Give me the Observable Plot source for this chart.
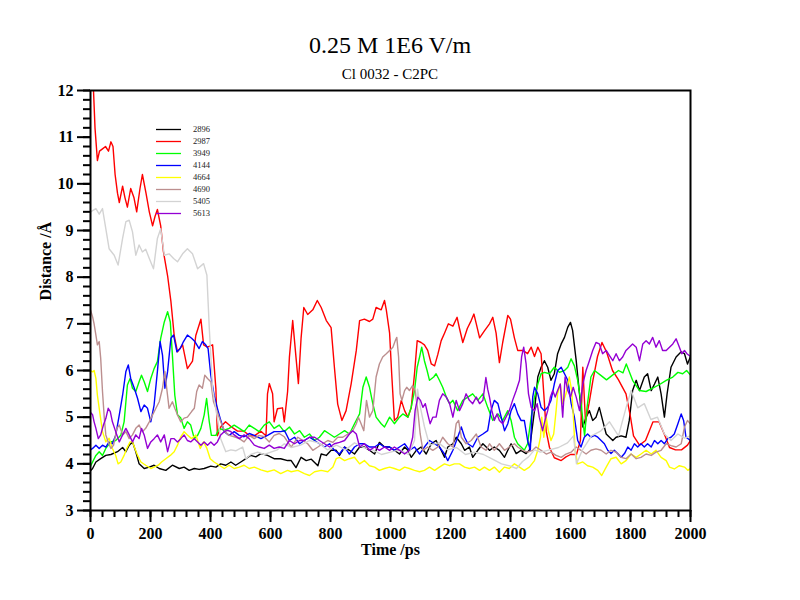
<!DOCTYPE html>
<html><head><meta charset="utf-8">
<script src="https://cdn.jsdelivr.net/npm/d3@7"></script>
<script src="https://cdn.jsdelivr.net/npm/@observablehq/plot@0.6"></script>
<style>
body{margin:0;background:#fff;}
#wrap{position:relative;width:800px;height:600px;overflow:hidden;}
#wrap svg.plotsvg{position:absolute;left:0;top:0;}
.title{position:absolute;left:0;width:780px;text-align:center;font-family:"Liberation Serif",serif;color:#000;line-height:1;white-space:nowrap;}
#legend{position:absolute;left:150px;top:120px;}
</style></head><body>
<div id="wrap">
  <div class="title" style="top:33px;font-size:24px;">0.25 M 1E6 V/m</div>
  <div class="title" style="top:67px;font-size:15px;">Cl 0032 - C2PC</div>
</div>
<script>
const seriesNames = ["2896","2987","3949","4144","4664","4690","5405","5613"];
const seriesColors = ["#000000","#ff0000","#00ff00","#0000ff","#ffff00","#bc8f8f","#d3d3d3","#9400d3"];
const xTicksMajor = [0,200,400,600,800,1000,1200,1400,1600,1800,2000];
const yTicksMajor = [3,4,5,6,7,8,9,10,11,12];

const s2896 = [[0,3.85],[7,3.9],[18,4.04],[34,4.11],[51,4.18],[68,4.2],[90,4.26],[107,4.35],[118,4.26],[129,4.4],[140,4.47],[151,4.26],[162,4.0],[179,3.9],[196,3.93],[212,3.97],[229,3.9],[251,3.86],[273,3.97],[296,3.9],[312,3.93],[329,3.86],[346,3.9],[362,3.88],[379,3.9],[401,3.95],[418,3.93],[434,4.0],[451,3.97],[468,4.04],[484,3.97],[501,4.04],[518,4.11],[534,4.18],[551,4.15],[568,4.22],[590,4.18],[612,4.11],[634,4.11],[657,4.07],[669,4.07],[685,3.92],[702,4.14],[719,4.07],[736,4.1],[758,3.96],[769,4.21],[786,4.18],[802,4.29],[819,4.29],[830,4.18],[847,4.36],[863,4.29],[880,4.21],[897,4.36],[913,4.36],[930,4.29],[947,4.21],[963,4.46],[980,4.36],[997,4.36],[1013,4.29],[1030,4.21],[1047,4.36],[1058,4.29],[1069,4.14],[1086,4.29],[1102,4.36],[1119,4.21],[1136,4.43],[1152,4.5],[1169,4.29],[1180,4.14],[1191,4.36],[1208,4.43],[1219,4.57],[1236,4.43],[1247,4.29],[1263,4.36],[1274,4.14],[1291,4.29],[1308,4.43],[1330,4.29],[1346,4.36],[1363,4.29],[1380,4.14],[1391,4.29],[1402,4.43],[1419,4.22],[1435,4.29],[1452,4.22],[1463,4.29],[1480,5.14],[1491,5.86],[1502,6.07],[1513,6.21],[1524,6.07],[1535,5.79],[1546,5.93],[1557,6.36],[1569,6.57],[1580,6.71],[1591,6.93],[1600,7.03],[1607,6.86],[1619,6.21],[1630,5.5],[1641,4.79],[1652,5.0],[1663,5.14],[1674,4.93],[1685,5.0],[1696,5.21],[1707,4.93],[1719,4.64],[1730,4.57],[1741,4.5],[1752,4.57],[1769,4.6],[1785,4.57],[1796,4.93],[1807,5.57],[1819,5.79],[1830,5.57],[1846,5.86],[1857,5.93],[1869,5.57],[1880,5.71],[1891,5.86],[1902,5.5],[1913,5.0],[1922,5.5],[1935,6.07],[1952,6.29],[1969,6.4],[1980,6.36],[1990,6.14],[2000,6.3]];

const s2987 = [[0,12.3],[10,12.0],[15,11.2],[23,10.5],[30,10.7],[40,10.75],[50,10.8],[60,10.7],[68,10.9],[75,10.8],[82,10.2],[90,9.8],[96,9.6],[107,9.95],[115,9.7],[123,9.5],[134,9.9],[145,9.7],[154,9.4],[165,9.9],[173,10.2],[185,9.8],[196,9.4],[207,9.1],[215,9.3],[223,9.45],[234,9.1],[243,8.55],[257,8.03],[268,7.48],[279,6.75],[290,6.4],[307,6.55],[323,6.04],[340,6.2],[351,6.75],[368,7.1],[377,6.55],[390,6.5],[407,6.55],[418,5.6],[423,4.6],[435,4.8],[450,4.9],[468,4.8],[490,4.7],[512,4.7],[530,4.6],[546,4.6],[568,4.7],[585,4.6],[590,5.5],[596,5.72],[607,5.5],[612,4.9],[623,5.18],[640,5.2],[646,4.9],[657,5.55],[663,6.28],[674,7.07],[685,6.28],[693,5.72],[702,6.7],[711,7.35],[724,7.2],[741,7.3],[756,7.5],[769,7.35],[786,7.07],[802,6.92],[813,6.07],[824,5.28],[838,4.93],[852,5.14],[869,5.72],[886,6.43],[897,7.07],[913,7.1],[930,7.05],[941,7.1],[952,7.35],[969,7.3],[980,7.5],[986,7.3],[997,6.8],[1004,5.93],[1013,4.93],[1024,5.0],[1036,5.36],[1047,5.14],[1058,5.0],[1069,5.2],[1080,5.93],[1089,6.64],[1102,6.6],[1113,6.55],[1124,6.43],[1136,6.14],[1147,6.1],[1158,6.35],[1169,6.64],[1180,6.8],[1193,7.0],[1208,6.95],[1222,7.14],[1230,6.9],[1241,6.6],[1256,6.9],[1269,7.07],[1278,7.21],[1286,7.0],[1297,6.7],[1313,6.85],[1330,7.0],[1341,7.14],[1352,6.8],[1363,6.17],[1374,6.6],[1391,7.18],[1400,7.1],[1413,6.7],[1424,6.43],[1441,6.43],[1457,6.36],[1469,6.5],[1480,6.3],[1491,6.5],[1502,6.36],[1511,5.5],[1519,4.7],[1530,4.35],[1546,4.13],[1569,4.07],[1585,4.15],[1600,4.2],[1620,4.2],[1633,4.5],[1641,6.07],[1650,4.9],[1662,5.3],[1675,5.8],[1690,6.3],[1705,6.6],[1720,6.4],[1740,6.0],[1760,5.8],[1785,5.5],[1800,5.0],[1810,4.6],[1830,4.4],[1850,4.5],[1875,4.9],[1895,4.9],[1915,4.6],[1930,4.35],[1950,4.3],[1970,4.3],[1990,4.4],[2000,4.5]];

const s3949 = [[0,3.95],[7,4.04],[18,4.18],[29,4.26],[40,4.18],[51,4.33],[68,4.47],[84,4.5],[101,4.61],[112,4.9],[118,5.33],[123,5.69],[132,5.83],[140,5.62],[151,5.55],[162,5.76],[170,5.9],[179,5.76],[190,5.55],[201,5.83],[212,6.04],[223,6.19],[234,6.69],[246,7.04],[257,7.26],[266,7.04],[273,6.33],[281,5.47],[290,5.05],[301,4.98],[312,4.76],[323,4.9],[334,4.83],[346,4.54],[357,4.61],[368,4.76],[379,5.05],[387,5.4],[396,4.9],[403,4.61],[418,4.61],[429,4.76],[446,4.72],[462,4.76],[479,4.83],[496,4.76],[512,4.69],[529,4.83],[546,4.76],[562,4.69],[579,4.83],[596,4.9],[612,4.76],[629,4.83],[646,4.69],[663,4.79],[680,4.64],[697,4.71],[713,4.57],[730,4.64],[747,4.5],[763,4.57],[780,4.71],[797,4.64],[813,4.57],[830,4.64],[847,4.71],[863,4.64],[880,4.86],[897,5.07],[908,5.64],[919,5.86],[930,5.64],[941,5.29],[952,5.0],[969,4.86],[980,4.79],[997,5.0],[1013,4.86],[1030,5.0],[1041,5.07],[1058,5.0],[1069,5.21],[1080,5.57],[1089,6.07],[1097,6.29],[1104,6.5],[1113,6.21],[1122,6.0],[1130,5.79],[1144,5.86],[1152,5.93],[1163,5.79],[1174,5.64],[1186,5.43],[1197,5.29],[1208,5.36],[1224,5.14],[1241,5.36],[1258,5.43],[1274,5.5],[1291,5.36],[1308,5.5],[1324,5.21],[1341,4.93],[1358,5.07],[1374,4.93],[1391,5.14],[1402,4.93],[1413,4.57],[1424,4.43],[1435,4.36],[1446,4.29],[1457,4.43],[1469,5.0],[1480,5.43],[1491,5.71],[1502,5.93],[1513,5.96],[1530,5.93],[1546,6.07],[1563,5.96],[1580,6.0],[1591,6.07],[1602,6.25],[1613,6.1],[1624,5.79],[1635,5.3],[1647,4.6],[1655,5.2],[1668,5.86],[1680,6.0],[1700,5.9],[1720,5.8],[1740,5.9],[1760,6.0],[1775,5.95],[1786,6.14],[1807,5.79],[1830,5.57],[1852,5.55],[1874,5.62],[1897,5.7],[1919,5.79],[1941,5.86],[1958,5.96],[1974,5.93],[1987,6.0],[2000,5.9]];

const s4144 = [[0,4.3],[7,4.33],[18,4.4],[29,4.33],[40,4.4],[51,4.36],[62,4.47],[73,4.43],[84,4.61],[96,5.05],[107,5.47],[118,5.98],[126,6.12],[134,5.83],[146,5.62],[157,5.4],[168,5.12],[179,5.26],[190,5.19],[201,4.9],[212,5.26],[223,5.98],[232,6.62],[240,6.33],[248,5.62],[257,5.98],[268,6.69],[277,6.76],[288,6.4],[299,6.47],[310,6.62],[323,6.76],[337,6.69],[348,6.62],[362,6.47],[373,6.62],[384,6.55],[392,6.47],[401,5.9],[412,5.47],[423,5.19],[432,4.98],[446,4.69],[462,4.61],[479,4.69],[496,4.61],[512,4.58],[529,4.65],[546,4.61],[568,4.54],[590,4.61],[612,4.69],[634,4.69],[647,4.71],[663,4.5],[680,4.57],[697,4.43],[713,4.5],[730,4.57],[747,4.5],[763,4.43],[780,4.36],[797,4.43],[813,4.29],[830,4.21],[847,4.36],[863,4.21],[880,4.36],[897,4.43],[913,4.43],[930,4.36],[947,4.36],[963,4.43],[980,4.36],[997,4.36],[1013,4.29],[1030,4.36],[1047,4.43],[1063,4.29],[1080,4.36],[1097,4.21],[1113,4.36],[1130,4.5],[1147,4.43],[1163,4.36],[1180,4.21],[1191,4.07],[1208,4.29],[1224,4.57],[1236,4.79],[1247,4.57],[1258,4.43],[1274,4.36],[1291,4.57],[1308,4.64],[1324,4.71],[1335,5.14],[1346,5.36],[1358,5.29],[1369,5.0],[1380,4.71],[1391,4.86],[1402,5.14],[1413,5.29],[1424,5.07],[1435,4.93],[1446,4.93],[1457,4.5],[1466,4.29],[1474,5.43],[1480,5.64],[1491,5.5],[1502,5.21],[1513,5.14],[1524,5.21],[1535,5.36],[1546,5.71],[1557,6.0],[1569,6.07],[1580,5.93],[1591,5.79],[1602,5.3],[1613,5.0],[1624,4.5],[1635,4.36],[1646,4.57],[1657,4.64],[1668,4.57],[1680,4.61],[1691,4.57],[1702,4.5],[1713,4.43],[1724,4.29],[1735,4.22],[1746,4.29],[1757,4.22],[1769,4.14],[1780,4.22],[1791,4.36],[1802,4.29],[1813,4.43],[1824,4.36],[1835,4.43],[1846,4.36],[1857,4.43],[1869,4.36],[1880,4.5],[1891,4.43],[1902,4.5],[1913,4.43],[1924,4.54],[1935,4.57],[1946,4.64],[1958,4.86],[1969,5.07],[1977,4.93],[1985,4.57],[2000,4.5]];

const s4664 = [[0,6.0],[7,5.97],[12,6.0],[18,5.83],[23,5.47],[32,5.05],[40,4.69],[51,4.47],[62,4.55],[73,4.33],[84,4.18],[92,4.0],[101,4.04],[112,4.18],[121,4.33],[132,4.47],[140,4.47],[148,4.33],[157,4.18],[168,4.04],[184,3.97],[201,3.9],[212,3.93],[226,3.97],[237,4.04],[251,4.11],[266,4.18],[279,4.26],[290,4.4],[301,4.58],[312,4.69],[323,4.62],[337,4.54],[351,4.62],[366,4.33],[377,4.47],[388,4.33],[399,4.11],[412,4.04],[429,3.97],[446,3.9],[462,3.97],[479,3.9],[496,3.93],[512,3.97],[529,3.9],[546,3.93],[568,3.87],[590,3.83],[612,3.87],[634,3.79],[657,3.86],[669,3.83],[691,3.86],[713,3.79],[730,3.75],[747,3.83],[769,3.86],[791,3.83],[808,3.93],[819,4.11],[830,4.14],[847,4.07],[863,4.11],[880,4.14],[897,4.0],[913,4.07],[930,3.96],[947,3.93],[963,3.86],[980,3.9],[997,3.93],[1013,3.9],[1030,3.86],[1047,3.93],[1063,3.9],[1080,3.86],[1097,3.83],[1113,3.86],[1130,3.93],[1147,3.86],[1163,3.93],[1180,4.0],[1197,3.96],[1213,4.0],[1230,4.0],[1247,3.93],[1263,3.9],[1280,3.93],[1297,3.86],[1313,3.93],[1330,3.86],[1346,3.93],[1363,3.82],[1380,3.93],[1396,3.9],[1413,4.0],[1430,3.93],[1446,3.86],[1463,3.93],[1480,4.07],[1491,4.29],[1500,4.57],[1504,5.0],[1511,4.57],[1519,5.0],[1526,4.71],[1535,4.5],[1544,4.64],[1552,5.14],[1557,5.5],[1566,5.71],[1574,5.29],[1585,5.5],[1596,5.86],[1604,5.57],[1611,4.86],[1615,4.29],[1624,4.0],[1641,4.04],[1657,3.96],[1674,3.93],[1691,3.86],[1704,3.75],[1719,3.93],[1735,4.11],[1752,4.14],[1769,4.0],[1785,4.07],[1802,4.21],[1819,4.14],[1835,4.21],[1852,4.29],[1869,4.21],[1885,4.29],[1902,4.14],[1919,4.07],[1930,3.93],[1946,3.89],[1963,3.96],[1980,3.93],[1991,3.86],[2000,3.9]];

const s4690 = [[0,7.3],[7,7.15],[12,7.0],[18,6.76],[23,6.55],[29,6.62],[34,6.26],[40,5.55],[46,4.98],[51,4.62],[59,4.47],[68,4.33],[77,4.4],[88,4.76],[96,4.83],[107,4.62],[118,4.69],[129,4.54],[140,4.62],[151,4.76],[162,4.83],[173,4.69],[184,4.76],[196,4.9],[207,5.05],[218,5.19],[229,5.33],[240,5.62],[248,5.98],[254,5.62],[262,5.19],[273,5.33],[281,5.19],[290,5.05],[301,4.9],[312,4.98],[323,5.0],[337,5.12],[346,5.19],[354,5.55],[362,5.69],[373,5.62],[381,5.9],[390,5.83],[401,5.76],[410,5.33],[418,5.19],[426,5.05],[434,4.9],[448,4.69],[462,4.61],[479,4.58],[496,4.54],[512,4.47],[529,4.61],[546,4.54],[562,4.61],[579,4.58],[596,4.47],[612,4.61],[629,4.65],[646,4.58],[669,4.36],[691,4.57],[708,4.5],[724,4.43],[741,4.29],[758,4.36],[774,4.43],[791,4.5],[808,4.46],[824,4.57],[841,4.57],[858,4.64],[874,4.71],[886,4.86],[893,5.0],[902,4.86],[911,4.71],[920,5.36],[930,5.0],[941,5.14],[952,5.86],[963,6.14],[974,6.29],[986,6.36],[997,6.43],[1008,6.5],[1016,6.64],[1021,6.71],[1027,6.29],[1032,5.5],[1038,5.36],[1047,5.57],[1054,5.64],[1063,5.57],[1074,5.68],[1082,5.57],[1091,5.14],[1099,4.64],[1108,4.29],[1124,4.36],[1141,4.29],[1158,4.36],[1174,4.57],[1191,4.43],[1208,4.36],[1219,4.86],[1227,4.93],[1236,4.57],[1252,4.43],[1269,4.5],[1286,4.64],[1302,4.36],[1319,4.29],[1330,4.43],[1346,4.29],[1363,4.43],[1380,4.29],[1396,4.36],[1413,4.43],[1424,4.36],[1441,4.29],[1457,4.25],[1474,4.29],[1485,4.36],[1502,4.29],[1519,4.21],[1535,4.25],[1552,4.18],[1569,4.14],[1585,4.21],[1602,4.25],[1619,4.36],[1635,4.29],[1652,4.21],[1668,4.29],[1685,4.32],[1702,4.29],[1719,4.21],[1735,4.29],[1752,4.25],[1769,4.14],[1785,4.11],[1802,4.21],[1819,4.11],[1835,4.14],[1852,4.21],[1869,4.18],[1885,4.25],[1902,4.29],[1919,4.43],[1935,4.39],[1952,4.36],[1969,4.43],[1980,4.79],[1990,4.93],[2000,4.85]];

const s5405 = [[0,9.4],[18,9.47],[29,9.35],[40,9.47],[51,9.04],[62,8.61],[79,8.47],[92,8.26],[107,8.83],[118,9.19],[129,9.22],[140,8.97],[151,8.47],[162,8.69],[173,8.54],[184,8.6],[196,8.4],[210,8.18],[223,8.83],[234,9.04],[246,8.47],[262,8.5],[277,8.4],[290,8.33],[307,8.5],[323,8.61],[340,8.5],[357,8.18],[377,8.29],[388,8.04],[396,6.9],[401,6.33],[407,5.6],[418,5.18],[434,4.54],[451,4.26],[468,4.3],[484,4.28],[507,4.36],[518,4.11],[534,4.2],[557,4.25],[579,4.2],[601,4.25],[623,4.3],[646,4.43],[670,4.35],[700,4.4],[730,4.5],[760,4.45],[790,4.3],[820,4.4],[850,4.3],[880,4.45],[910,4.35],[940,4.3],[970,4.2],[1000,4.25],[1030,4.3],[1060,4.2],[1080,4.5],[1090,5.6],[1100,5.2],[1113,4.8],[1130,4.4],[1160,4.45],[1190,4.3],[1220,4.35],[1250,4.2],[1280,4.25],[1310,4.2],[1340,4.1],[1370,4.0],[1400,3.95],[1420,3.9],[1440,4.05],[1460,4.15],[1480,4.3],[1500,4.25],[1530,4.3],[1560,4.35],[1590,4.45],[1610,4.6],[1620,4.0],[1640,4.3],[1670,4.6],[1700,4.7],[1730,4.9],[1760,4.6],[1785,5.2],[1802,5.57],[1824,5.2],[1846,5.29],[1868,4.95],[1890,5.0],[1913,4.64],[1935,4.5],[1958,4.64],[1980,4.55],[2000,4.6]];

const s5613 = [[0,5.1],[7,5.05],[12,4.9],[18,4.76],[26,4.54],[34,4.62],[43,4.83],[51,4.97],[59,5.19],[66,5.12],[73,4.9],[84,4.69],[96,4.47],[107,4.62],[118,4.76],[129,4.62],[140,4.47],[151,4.62],[162,4.54],[170,4.76],[179,4.62],[190,4.33],[201,4.47],[212,4.54],[223,4.62],[234,4.47],[246,4.62],[257,4.26],[268,4.54],[279,4.54],[290,4.47],[301,4.54],[312,4.62],[323,4.5],[334,4.47],[346,4.54],[357,4.47],[368,4.4],[379,4.47],[390,4.4],[401,4.47],[412,4.4],[423,4.47],[434,4.62],[446,4.69],[457,4.72],[468,4.69],[479,4.62],[496,4.54],[512,4.62],[529,4.54],[546,4.4],[562,4.36],[579,4.33],[596,4.4],[612,4.33],[629,4.36],[646,4.33],[663,4.5],[680,4.43],[697,4.5],[713,4.5],[730,4.57],[747,4.57],[763,4.5],[780,4.43],[797,4.36],[813,4.43],[830,4.46],[847,4.5],[863,4.64],[874,4.71],[886,4.64],[897,4.36],[913,4.43],[930,4.29],[947,4.36],[963,4.29],[980,4.36],[997,4.29],[1013,4.36],[1030,4.29],[1047,4.21],[1063,4.29],[1074,4.57],[1082,5.14],[1091,5.43],[1100,5.36],[1108,5.21],[1116,5.29],[1124,5.07],[1132,4.86],[1141,5.0],[1152,5.0],[1163,5.36],[1174,5.5],[1186,5.43],[1197,5.29],[1208,5.0],[1219,5.36],[1230,5.14],[1241,5.29],[1252,5.5],[1263,5.36],[1274,5.29],[1286,5.43],[1297,5.29],[1308,5.36],[1318,5.85],[1324,5.6],[1330,5.43],[1338,5.14],[1346,4.93],[1355,5.07],[1363,4.93],[1374,4.86],[1385,5.0],[1396,5.14],[1407,5.36],[1419,5.57],[1430,5.79],[1437,6.29],[1444,6.5],[1452,6.14],[1460,5.5],[1469,5.21],[1480,5.14],[1489,5.29],[1496,5.0],[1507,4.71],[1515,4.93],[1524,5.14],[1533,5.43],[1541,5.57],[1549,5.43],[1557,5.57],[1566,5.71],[1574,5.0],[1582,5.86],[1591,5.57],[1600,5.43],[1609,5.64],[1619,5.43],[1630,5.14],[1641,5.71],[1652,6.0],[1663,6.21],[1674,6.43],[1685,6.6],[1696,6.57],[1707,6.36],[1719,6.43],[1730,6.32],[1741,6.21],[1752,6.36],[1763,6.21],[1774,6.29],[1785,6.43],[1796,6.5],[1807,6.57],[1819,6.5],[1830,6.21],[1841,6.57],[1852,6.64],[1863,6.57],[1874,6.71],[1885,6.5],[1896,6.64],[1907,6.43],[1919,6.43],[1930,6.5],[1941,6.57],[1952,6.68],[1963,6.5],[1971,6.36],[1980,6.43],[1988,6.36],[2000,6.3]];

const seriesData = [s2896, s2987, s3949, s4144, s4664, s4690, s5405, s5613];

const font = "Liberation Serif";
const lineMarks = seriesData.map((d, i) =>
  Plot.line(d, {x: p => p[0], y: p => p[1], stroke: seriesColors[i], strokeWidth: 1.4, clip: true})
);

const chart = Plot.plot({
  width: 800, height: 600,
  marginLeft: 90, marginRight: 110, marginTop: 90, marginBottom: 90,
  style: {fontFamily: font, background: "transparent", overflow: "visible"},
  x: {domain: [0, 2000]},
  y: {domain: [3, 12]},
  marks: [
    ...lineMarks,
    Plot.frame({stroke: "black", strokeWidth: 2}),
    Plot.axisX(d3.range(0, 2001, 40), {tickSize: 7, strokeWidth: 2, tickFormat: () => "", label: null}),
    Plot.axisX(xTicksMajor, {tickSize: 12, tickPadding: 5, strokeWidth: 2, tickFormat: d => String(d), fontSize: 16, fontWeight: "bold", fontFamily: font, fill: "black", label: null}),
    Plot.axisY(d3.range(3, 12.001, 0.2), {tickSize: 7, strokeWidth: 2, tickFormat: () => "", label: null}),
    Plot.axisY(yTicksMajor, {tickSize: 13, tickPadding: 4, strokeWidth: 2, tickFormat: d => String(d), fontSize: 16, fontWeight: "bold", fontFamily: font, fill: "black", label: null}),
    Plot.text(["Time /ps"], {frameAnchor: "bottom", dy: 44, fontSize: 16, fontWeight: "bold", fontFamily: font, fill: "black"}),
    Plot.text(["Distance /Å"], {frameAnchor: "left", dx: -45, rotate: -90, fontSize: 16, fontWeight: "bold", fontFamily: font, fill: "black"})
  ]
});
chart.classList.add("plotsvg");
const wrap = document.getElementById("wrap");
wrap.insertBefore(chart, wrap.firstChild);

// legend overlay inside the plot area
const leg = d3.select("#wrap").append("svg").attr("id", "legend")
  .attr("width", 90).attr("height", 100);
const rows = leg.selectAll("g").data(seriesNames).join("g")
  .attr("transform", (d, i) => `translate(0,${9.5 + i * 12})`);
rows.append("line").attr("x1", 6).attr("x2", 31).attr("y1", 0).attr("y2", 0)
  .attr("stroke", (d, i) => seriesColors[i]).attr("stroke-width", 1.3);
rows.append("text").attr("x", 43).attr("y", 0).attr("dy", "0.35em")
  .attr("font-family", font).attr("font-size", 8.5).attr("fill", "#222").text(d => d);
</script>
</body></html>
